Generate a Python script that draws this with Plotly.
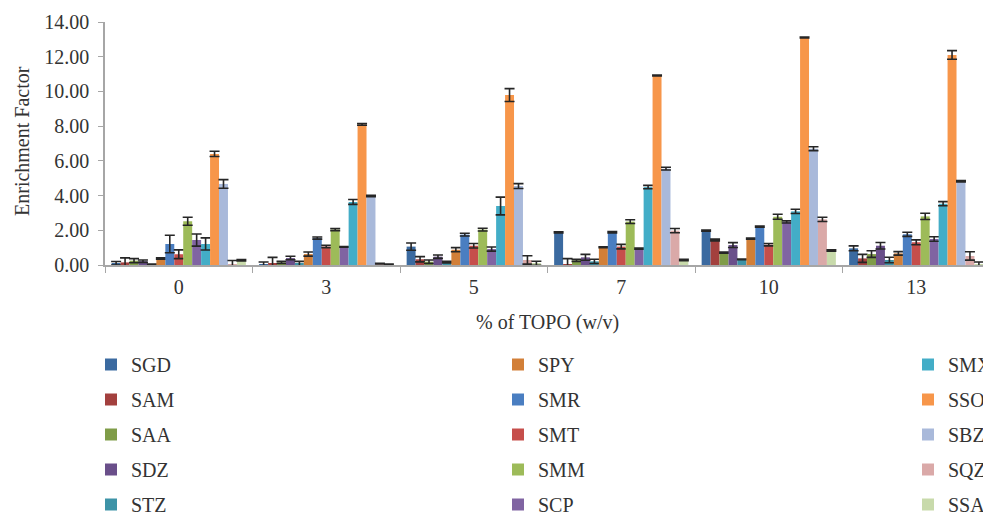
import plotly.graph_objects as go

# % of TOPO (w/v)
categories = ["0", "3", "5", "7", "10", "13"]

series_names = ["SGD", "SAM", "SAA", "SDZ", "STZ",
                "SPY", "SMR", "SMT", "SMM", "SCP",
                "SMX", "SSO", "SBZ", "SQZ", "SSA"]

# enrichment factor (mean) and error per series
SGD = [0.10, 0.02, 1.06, 1.88, 1.98, 0.96]
SAM = [0.15, 0.11, 0.33, 0.05, 1.44, 0.38]
SAA = [0.25, 0.15, 0.19, 0.27, 0.71, 0.63]
SDZ = [0.22, 0.40, 0.48, 0.44, 1.15, 1.11]
STZ = [0.03, 0.06, 0.17, 0.21, 0.33, 0.29]
SPY = [0.38, 0.63, 0.88, 1.02, 1.52, 0.67]
SMR = [1.21, 1.55, 1.75, 1.88, 2.21, 1.77]
SMT = [0.62, 1.06, 1.11, 1.06, 1.17, 1.31]
SMM = [2.52, 2.04, 2.04, 2.50, 2.78, 2.80]
SCP = [1.44, 1.04, 0.92, 0.94, 2.48, 1.50]
SMX = [1.21, 3.63, 3.40, 4.49, 3.09, 3.53]
SSO = [6.40, 8.10, 9.79, 10.92, 13.11, 12.10]
SBZ = [4.67, 3.97, 4.55, 5.55, 6.70, 4.82]
SQZ = [0.05, 0.08, 0.29, 1.98, 2.63, 0.52]
SSA = [0.27, 0.04, 0.10, 0.29, 0.83, 0.04]

SGD_err = [0.10, 0.15, 0.21, 0.03, 0.03, 0.14]
SAM_err = [0.26, 0.33, 0.15, 0.32, 0.05, 0.23]
SAA_err = [0.12, 0.06, 0.10, 0.06, 0.03, 0.19]
SDZ_err = [0.07, 0.10, 0.10, 0.17, 0.14, 0.19]
STZ_err = [0.02, 0.15, 0.05, 0.12, 0.02, 0.16]
SPY_err = [0.04, 0.12, 0.12, 0.03, 0.03, 0.10]
SMR_err = [0.50, 0.06, 0.08, 0.04, 0.03, 0.12]
SMT_err = [0.25, 0.07, 0.13, 0.13, 0.07, 0.14]
SMM_err = [0.23, 0.06, 0.08, 0.11, 0.14, 0.18]
SCP_err = [0.35, 0.02, 0.12, 0.03, 0.06, 0.13]
SMX_err = [0.35, 0.14, 0.51, 0.10, 0.12, 0.12]
SSO_err = [0.15, 0.05, 0.37, 0.03, 0.03, 0.25]
SBZ_err = [0.25, 0.04, 0.14, 0.08, 0.11, 0.04]
SQZ_err = [0.21, 0.02, 0.24, 0.12, 0.12, 0.24]
SSA_err = [0.04, 0.02, 0.12, 0.04, 0.04, 0.13]

values = [SGD, SAM, SAA, SDZ, STZ, SPY, SMR, SMT, SMM, SCP, SMX, SSO, SBZ, SQZ, SSA]
errors = [SGD_err, SAM_err, SAA_err, SDZ_err, STZ_err, SPY_err, SMR_err, SMT_err,
          SMM_err, SCP_err, SMX_err, SSO_err, SBZ_err, SQZ_err, SSA_err]

colors = ["#3B6AA0", "#A3403E", "#7F9C48", "#6A4F8A", "#3D93A7",
          "#D27F38", "#4A7EC1", "#C64E4B", "#9DBB59", "#8064A2",
          "#43ADC7", "#F7964A", "#A9B9DA", "#DAA9A8", "#C8DAAB"]

FONT = "Liberation Serif"
TXT = "#333333"
AXIS = "#A6A6A6"

# figure geometry (px)
W, H = 983, 512
L, T, B = 105, 22, 247
plot_w = W - L
plot_h = H - T - B
cat_w = 147.5

legend_ids = ["legend", "legend2", "legend3"]

fig = go.Figure()
for i, (name, vals, errs, col) in enumerate(zip(series_names, values, errors, colors)):
    fig.add_trace(go.Bar(
        x=categories, y=vals, name=name,
        marker=dict(color=col, line=dict(width=0)),
        error_y=dict(type="data", array=errs, visible=True,
                     color="#262626", thickness=1.6, width=5),
        legend=legend_ids[i // 5],
        legendgroup=name,
    ))

legend_x_px = [91, 498, 908]
legend_common = dict(
    font=dict(family=FONT, size=20, color=TXT),
    orientation="v", bgcolor="rgba(0,0,0,0)",
    xref="paper", yref="paper", xanchor="left", yanchor="top",
    tracegroupgap=6, itemclick=False, itemdoubleclick=False,
)
legends = {}
for lid, xpx in zip(legend_ids, legend_x_px):
    legends[lid] = dict(legend_common, x=(xpx - L) / plot_w, y=(H - B - 345) / plot_h)

fig.update_layout(
    width=W, height=H,
    margin=dict(l=L, r=0, t=T, b=B, autoexpand=False),
    paper_bgcolor="white", plot_bgcolor="white",
    barmode="group", bargap=0.09, bargroupgap=0,
    font=dict(family=FONT, size=20, color=TXT),
    showlegend=True,
    **legends,
    xaxis=dict(
        type="category", range=[-0.5, -0.5 + plot_w / cat_w],
        showline=True, linecolor=AXIS, linewidth=1.5,
        ticks="outside", tickson="boundaries", ticklen=6, tickcolor=AXIS, tickwidth=1.2,
        ticklabelstandoff=3,
        showgrid=False, zeroline=False,
        tickfont=dict(family=FONT, size=20, color=TXT),
    ),
    yaxis=dict(
        range=[0, 14], dtick=2, tickformat=".2f",
        showline=True, linecolor=AXIS, linewidth=1.5,
        ticks="outside", ticklen=5, tickcolor=AXIS, tickwidth=1.2,
        ticklabelstandoff=5,
        showgrid=False, zeroline=False,
        tickfont=dict(family=FONT, size=20, color=TXT),
    ),
    annotations=[
        dict(text="Enrichment Factor", textangle=-90, xref="paper", yref="paper",
             x=(22 - L) / plot_w, y=(H - B - 141) / plot_h,
             xanchor="center", yanchor="middle", showarrow=False,
             font=dict(family=FONT, size=20, color=TXT)),
        dict(text="% of TOPO (w/v)", xref="paper", yref="paper",
             x=(547 - L) / plot_w, y=(H - B - 322) / plot_h,
             xanchor="center", yanchor="middle", showarrow=False,
             font=dict(family=FONT, size=20, color=TXT)),
    ],
)

fig.write_html("out.html")
